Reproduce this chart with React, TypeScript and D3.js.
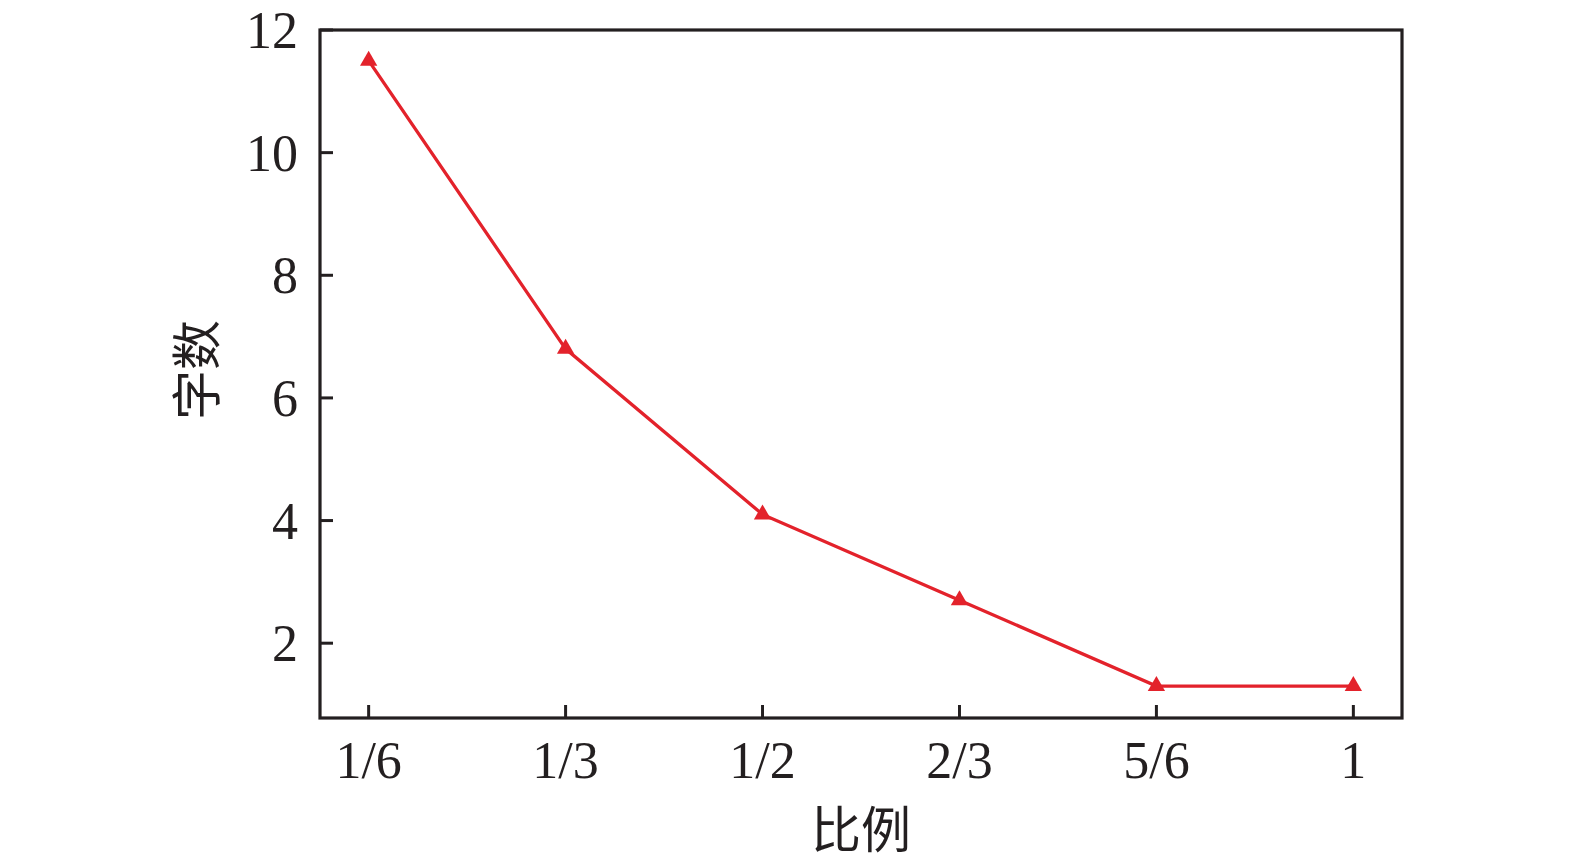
import * as d3 from "d3";

// 比例 -> 字数
const categories = ["1/6", "1/3", "1/2", "2/3", "5/6", "1"];
const wordCounts = [11.5, 6.8, 4.1, 2.7, 1.3, 1.3];
const yTicks = [2, 4, 6, 8, 10, 12];

const W = 1575;
const H = 866;
const margin = { top: 30, right: 173, bottom: 148, left: 320 };
const RED = "#e3222b";
const SERIF = "'Liberation Serif', 'DejaVu Serif', serif";
const CJK = "'Noto Sans CJK SC', sans-serif";

export default function App() {
  const innerW = W - margin.left - margin.right;
  const innerH = H - margin.top - margin.bottom;

  const x = d3
    .scalePoint<string>()
    .domain(categories)
    .range([0, innerW])
    .padding(0.247);

  const y = d3.scaleLinear().domain([0.78, 12]).range([innerH, 0]);

  const line = d3
    .line<number>()
    .x((_, i) => x(categories[i]) ?? 0)
    .y((d) => y(d));

  const tri = d3.symbol().type(d3.symbolTriangle).size(130);

  return (
    <svg
      width={W}
      height={H}
      style={{ position: "absolute", left: 0, top: 0, background: "#fff" }}
    >
      <g transform={`translate(${margin.left},${margin.top})`}>
        {/* marco */}
        <rect
          width={innerW}
          height={innerH}
          fill="none"
          stroke="#231f20"
          strokeWidth={3.2}
        />

        {/* ticks eje Y (hacia adentro) */}
        {yTicks.map((t) => (
          <g key={t} transform={`translate(0,${y(t)})`}>
            <line x1={0} x2={13} stroke="#231f20" strokeWidth={3} />
            <text
              x={-22}
              dy="0.35em"
              textAnchor="end"
              fontFamily={SERIF}
              fontSize={52}
              fill="#231f20"
            >
              {t}
            </text>
          </g>
        ))}

        {/* ticks eje X */}
        {categories.map((c) => (
          <g key={c} transform={`translate(${x(c)},${innerH})`}>
            <line y1={0} y2={-13} stroke="#231f20" strokeWidth={3} />
            <text
              y={60}
              textAnchor="middle"
              fontFamily={SERIF}
              fontSize={52}
              fill="#231f20"
            >
              {c}
            </text>
          </g>
        ))}

        {/* serie */}
        <path d={line(wordCounts) || ""} fill="none" stroke={RED} strokeWidth={3.3} />
        {wordCounts.map((v, i) => (
          <path
            key={i}
            d={tri() || ""}
            transform={`translate(${x(categories[i])},${y(v)})`}
            fill={RED}
          />
        ))}

        {/* títulos de ejes */}
        <text
          x={innerW / 2}
          y={innerH + 130}
          textAnchor="middle"
          fontFamily={CJK}
          fontSize={50}
          fill="#231f20"
        >
          比例
        </text>
        <text
          transform={`translate(${-105},${340}) rotate(-90)`}
          textAnchor="middle"
          fontFamily={CJK}
          fontSize={50}
          fill="#231f20"
        >
          字数
        </text>
      </g>
    </svg>
  );
}
